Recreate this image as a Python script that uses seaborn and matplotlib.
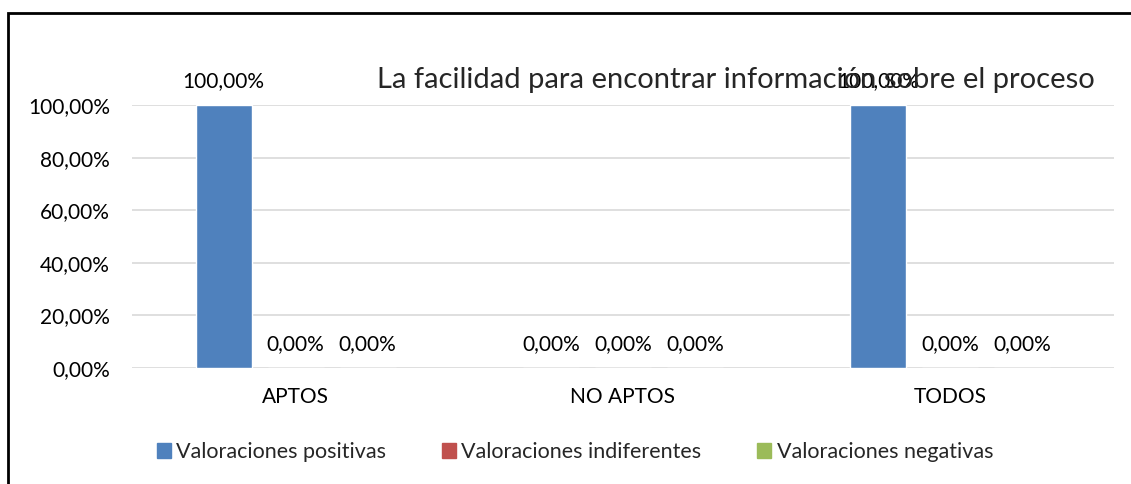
import matplotlib
matplotlib.use("Agg")
import matplotlib.pyplot as plt
import pandas as pd
import seaborn as sns
from matplotlib.patches import Rectangle

# ---------data-----------------------------------------------------------------
categorias = ["APTOS", "NO APTOS", "TODOS"]
series = ["Valoraciones positivas", "Valoraciones indiferentes", "Valoraciones negativas"]
positivas = [1.0, 0.0, 1.0]
indiferentes = [0.0, 0.0, 0.0]
negativas = [0.0, 0.0, 0.0]
yticks = [0.0, 0.2, 0.4, 0.6, 0.8, 1.0]
colores = ["#4F81BD", "#C0504D", "#9BBB59"]
titulo = "La facilidad para encontrar información sobre el proceso"

df = pd.DataFrame({
    "categoria": categorias * 3,
    "serie": [series[0]] * 3 + [series[1]] * 3 + [series[2]] * 3,
    "valor": positivas + indiferentes + negativas,
})


def pct(v):
    return f"{v * 100:.2f}%".replace(".", ",")


# ---------plot-----------------------------------------------------------------
sns.set_style("white")
plt.rcParams["font.family"] = ["Lato", "DejaVu Sans"]

fig = plt.figure(figsize=(11.31, 4.84), dpi=100)
ax = fig.add_axes([132 / 1131, 1 - 368 / 484, (1114 - 132) / 1131, (368 - 105) / 484])

sns.barplot(data=df, x="categoria", y="valor", hue="serie", hue_order=series,
            order=categorias, palette=colores, saturation=1, width=0.66, gap=0.22,
            legend=False, ax=ax)

for cont in ax.containers:
    ax.bar_label(cont, labels=[pct(v) for v in cont.datavalues], padding=10,
                 fontsize=15, color="#000000")

ax.set_ylim(0, 1.0)
ax.set_xlim(-0.5, 2.5)
ax.set_yticks(yticks)
ax.set_yticklabels([pct(v) for v in yticks])
ax.set_xlabel("")
ax.set_ylabel("")
ax.tick_params(axis="both", length=0, labelsize=15, colors="#000000")
ax.tick_params(axis="y", pad=16)
ax.tick_params(axis="x", pad=14)
ax.grid(axis="y", color="#d9d9d9", linewidth=1.2)
ax.set_axisbelow(True)
for s in ax.spines.values():
    s.set_visible(False)

fig.text(736 / 1131, 1 - 80 / 484, titulo, ha="center", va="center", fontsize=21)

handles = [Rectangle((0, 0), 1, 1, color=c) for c in colores]
fig.legend(handles, series, loc="center", bbox_to_anchor=(575 / 1131, 1 - 452 / 484),
           ncol=3, frameon=False, fontsize=15.5, handlelength=0.65, handleheight=0.65,
           handletextpad=0.25, columnspacing=2.6)

fig.patches.append(Rectangle((8 / 1131, -0.1), 1.2, 1.1 - 13 / 484,
                             transform=fig.transFigure, fill=False,
                             edgecolor="black", linewidth=2))

fig.savefig("out.png", dpi=100)
